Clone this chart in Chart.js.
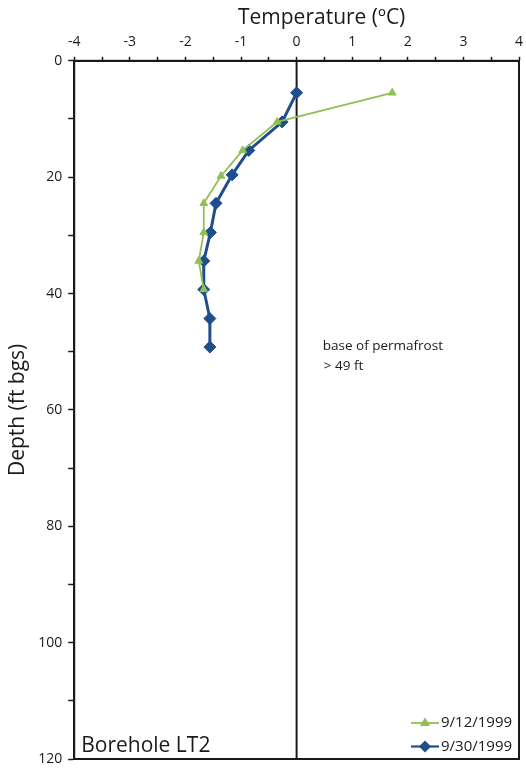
<!DOCTYPE html>
<html>
<head>
<meta charset="utf-8">
<script src="https://cdn.jsdelivr.net/npm/chart.js@4"></script>
<style>
  html, body { margin: 0; padding: 0; background: #fff; }
  #wrap { width: 526px; height: 768px; }
</style>
</head>
<body>
<div id="wrap"><canvas id="tempChart" width="526" height="768"></canvas></div>
<script>
const depthSep12 = [5.5, 10.5, 15.4, 19.8, 24.5, 29.5, 34.4, 39.3];
const tempSep12 = [1.72, -0.35, -0.97, -1.36, -1.67, -1.67, -1.76, -1.67];
const depthSep30 = [5.5, 10.5, 15.4, 19.6, 24.5, 29.5, 34.4, 39.3, 44.3, 49.2];
const tempSep30 = [0.0, -0.26, -0.86, -1.16, -1.45, -1.55, -1.67, -1.67, -1.56, -1.56];
const seriesLabels = ["9/12/1999", "9/30/1999"];
const tempTicks = [-4, -3, -2, -1, 0, 1, 2, 3, 4];
const depthTicks = [0, 20, 40, 60, 80, 100, 120];

const GREEN = "#93bf55";
const BLUE = "#1f4e8d";
const INK = "#1a1a1a";
const FONT = "'Open Sans', sans-serif";

const toPoints = (xs, ys) => xs.map((x, i) => ({ x: x, y: ys[i] }));

// frame, x title (sits right of centre in the original), notes, legend
const extras = {
  id: "extras",
  afterDatasetsDraw(chart) {
    const { ctx, chartArea: a, scales } = chart;
    ctx.save();
    ctx.strokeStyle = INK;
    ctx.lineWidth = 2;
    ctx.strokeRect(a.left, a.top, a.right - a.left, a.bottom - a.top);

    ctx.fillStyle = INK;
    ctx.textBaseline = "middle";
    ctx.textAlign = "center";
    ctx.font = "21px " + FONT;
    ctx.fillText("Temperature (ºC)", scales.x.getPixelForValue(0.45), 18);

    ctx.textAlign = "left";
    ctx.font = "13.5px " + FONT;
    ctx.fillText("base of permafrost", scales.x.getPixelForValue(0.47), scales.y.getPixelForValue(49.0));
    ctx.fillText("> 49 ft", scales.x.getPixelForValue(0.49), scales.y.getPixelForValue(52.4));

    ctx.font = "21px " + FONT;
    ctx.textBaseline = "alphabetic";
    ctx.fillText("Borehole LT2", a.left + 7, a.bottom - 7);

    // legend
    const ds = chart.data.datasets;
    ctx.font = "15px " + FONT;
    ctx.textBaseline = "middle";
    [0, 1].forEach(i => {
      const d = ds[i];
      const y = a.bottom - 36 + i * 23.5;
      const x0 = a.right - 108, x1 = a.right - 80;
      ctx.strokeStyle = d.borderColor;
      ctx.lineWidth = i === 0 ? 1.8 : 2.2;
      ctx.beginPath(); ctx.moveTo(x0, y); ctx.lineTo(x1, y); ctx.stroke();
      Chart.helpers.drawPoint(ctx, {
        pointStyle: d.pointStyle, radius: i === 0 ? 4 : 4.5, borderWidth: 1
      }, (x0 + x1) / 2, y);
      ctx.fillStyle = d.borderColor;
      ctx.fill();
      ctx.fillStyle = INK;
      ctx.fillText(d.label, x1 + 2, y);
    });
    ctx.restore();
  }
};

new Chart(document.getElementById("tempChart"), {
  type: "scatter",
  data: {
    datasets: [
      {
        label: seriesLabels[0],
        data: toPoints(tempSep12, depthSep12),
        showLine: true,
        borderColor: GREEN,
        backgroundColor: GREEN,
        borderWidth: 1.8,
        pointStyle: "triangle",
        pointRadius: 4.5,
        pointBorderWidth: 1
      },
      {
        label: seriesLabels[1],
        data: toPoints(tempSep30, depthSep30),
        showLine: true,
        borderColor: BLUE,
        backgroundColor: BLUE,
        borderWidth: 3,
        pointStyle: "rectRot",
        pointRadius: 6,
        pointBorderWidth: 1
      },
      {
        label: "zero",
        data: toPoints([0, 0], [depthTicks[0], depthTicks[depthTicks.length - 1]]),
        showLine: true,
        borderColor: INK,
        borderWidth: 2,
        pointRadius: 0
      }
    ]
  },
  options: {
    responsive: false,
    animation: false,
    layout: { padding: { top: 28, right: 0, bottom: 0, left: 5 } },
    plugins: { legend: { display: false }, tooltip: { enabled: false } },
    scales: {
      x: {
        type: "linear",
        position: "top",
        min: tempTicks[0],
        max: tempTicks[tempTicks.length - 1],
        ticks: {
          stepSize: 0.5,
          autoSkip: false,
          maxRotation: 0,
          color: INK,
          font: { family: FONT, size: 14 },
          padding: 6,
          callback: v => tempTicks.includes(v) ? String(v) : ""
        },
        grid: { drawOnChartArea: false, tickLength: 4, tickColor: INK, tickWidth: 1.5 },
        border: { color: INK, width: 2 },
        afterFit: s => { s.paddingLeft = 0; s.paddingRight = 7; }
      },
      y: {
        type: "linear",
        reverse: true,
        min: depthTicks[0],
        max: depthTicks[depthTicks.length - 1],
        title: { display: true, text: "Depth (ft bgs)", color: INK, font: { family: FONT, size: 21 }, padding: { top: 0, bottom: 2 } },
        ticks: {
          stepSize: 10,
          autoSkip: false,
          color: INK,
          font: { family: FONT, size: 14 },
          padding: 6,
          callback: v => depthTicks.includes(v) ? String(v) : ""
        },
        grid: { drawOnChartArea: false, tickLength: 6, tickColor: INK, tickWidth: 1.5 },
        border: { color: INK, width: 2 },
        afterFit: s => { s.paddingTop = 0; s.paddingBottom = 9; }
      }
    }
  },
  plugins: [extras]
});
</script>
</body>
</html>
